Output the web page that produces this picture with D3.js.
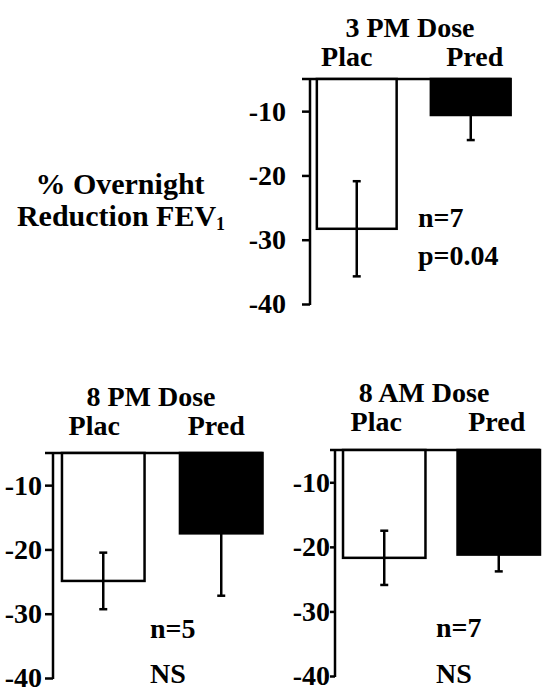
<!DOCTYPE html>
<html>
<head>
<meta charset="utf-8">
<script src="https://cdn.jsdelivr.net/npm/d3@7"></script>
<style>
  html, body { margin: 0; padding: 0; background: #fff; }
  svg { display: block; }
</style>
</head>
<body>
<svg id="chart" width="542" height="690"></svg>
<script>
// ---- data ----
const panelTitles = ["3 PM Dose", "8 PM Dose", "8 AM Dose"];
const categories = ["Plac", "Pred"];
const placMeans = [-28.3, -24.9, -21.7];
const placErrors = [7.4, 4.4, 4.2];
const predMeans = [-10.6, -17.5, -21.2];
const predErrors = [3.9, 9.7, 2.6];
const nLabels = ["n=7", "n=5", "n=7"];
const pLabels = ["p=0.04", "NS", "NS"];
const tickValues = [-10, -20, -30, -40];
const yDomain = [-40, -5];
const yAxisLabel = ["% Overnight", "Reduction FEV", "1"];

// ---- layout (positions only) ----
const layout = [
  { axisX: 310, top: 79,  h: 225, r1: 517.5, pi: 0.30, po: 0.06,  tick: 8, labelGap: 16, titleX: 410, titleDy: 42, catDy: 13, catDx: [-10, 4], statX: 418, statY: [227, 265] },
  { axisX: 53,  top: 453, h: 225, r1: 271.5, pi: 0.30, po: 0.076, tick: 8, labelGap: 3,  titleX: 151, titleDy: 47, catDy: 18, catDx: [-9, -5], statX: 150, statY: [638, 683] },
  { axisX: 335, top: 450, h: 226, r1: 548,   pi: 0.28, po: 0.07,  tick: 5, labelGap: 0,  titleX: 424, titleDy: 48, catDy: 19, catDx: [-8, -2], statX: 436, statY: [637, 683] }
];

const FONT = "Liberation Serif";
const FS = 28;
const SW = 2.5;
const svg = d3.select("#chart");

function txt(sel, size) {
  return sel.attr("font-family", FONT).attr("font-weight", "bold").attr("font-size", size || FS).attr("fill", "#000");
}

panelTitles.forEach((title, i) => {
  const L = layout[i];
  const g = svg.append("g");
  const y = d3.scaleLinear().domain(yDomain).range([L.top + L.h, L.top]);
  const x = d3.scaleBand().domain(categories).range([L.axisX, L.r1])
    .paddingInner(L.pi).paddingOuter(L.po);

  // axis
  const axis = d3.axisLeft(y).tickValues(tickValues).tickSize(L.tick).tickPadding(L.labelGap).tickFormat(d => String(d));
  const ag = g.append("g").attr("transform", `translate(${L.axisX},0)`).call(axis);
  ag.attr("font-family", null).attr("font-size", null);
  ag.select(".domain").remove();
  ag.selectAll(".tick line").attr("stroke", "#000").attr("stroke-width", SW);
  txt(ag.selectAll(".tick text"));
  ag.append("line").attr("x1", 0).attr("x2", 0).attr("y1", y(-5)).attr("y2", y(-40) + 1)
    .attr("stroke", "#000").attr("stroke-width", SW);

  // baseline at top
  g.append("line")
    .attr("x1", L.axisX - L.tick).attr("x2", x("Pred") + x.bandwidth())
    .attr("y1", y(-5)).attr("y2", y(-5))
    .attr("stroke", "#000").attr("stroke-width", SW);

  const bars = [
    { cat: "Plac", v: placMeans[i], e: placErrors[i], fill: "#fff" },
    { cat: "Pred", v: predMeans[i], e: predErrors[i], fill: "#000" }
  ];

  g.selectAll("rect.bar").data(bars).join("rect")
    .attr("class", "bar")
    .attr("x", d => x(d.cat))
    .attr("y", y(-5))
    .attr("width", x.bandwidth())
    .attr("height", d => y(d.v) - y(-5))
    .attr("fill", d => d.fill)
    .attr("stroke", "#000").attr("stroke-width", SW);

  // error bars
  const eb = g.selectAll("g.err").data(bars).join("g").attr("class", "err")
    .attr("transform", d => `translate(${x(d.cat) + x.bandwidth() / 2},0)`);
  eb.append("line").attr("y1", d => y(d.v + d.e)).attr("y2", d => y(d.v - d.e))
    .attr("stroke", "#000").attr("stroke-width", SW);
  eb.append("line").attr("x1", -4).attr("x2", 4).attr("y1", d => y(d.v + d.e)).attr("y2", d => y(d.v + d.e))
    .attr("stroke", "#000").attr("stroke-width", SW);
  eb.append("line").attr("x1", -4).attr("x2", 4).attr("y1", d => y(d.v - d.e)).attr("y2", d => y(d.v - d.e))
    .attr("stroke", "#000").attr("stroke-width", SW);

  // titles
  txt(g.append("text")).attr("x", L.titleX).attr("y", y(-5) - L.titleDy)
    .attr("text-anchor", "middle").text(title);
  txt(g.selectAll("text.cat").data(categories).join("text").attr("class", "cat"))
    .attr("x", (d, j) => x(d) + x.bandwidth() / 2 + L.catDx[j])
    .attr("y", y(-5) - L.catDy)
    .attr("text-anchor", "middle").text(d => d);

  // stats
  txt(g.append("text")).attr("x", L.statX).attr("y", L.statY[0]).text(nLabels[i]);
  txt(g.append("text")).attr("x", L.statX).attr("y", L.statY[1]).text(pLabels[i]);
});

// y axis label
const lab = svg.append("g");
txt(lab.append("text"), 30).attr("x", 120).attr("y", 194).attr("text-anchor", "middle").text(yAxisLabel[0]);
const t2 = txt(lab.append("text"), 30).attr("x", 121).attr("y", 226).attr("text-anchor", "middle");
t2.append("tspan").text(yAxisLabel[1]);
t2.append("tspan").attr("font-size", 18).attr("dy", 4).text(yAxisLabel[2]);
</script>
</body>
</html>
